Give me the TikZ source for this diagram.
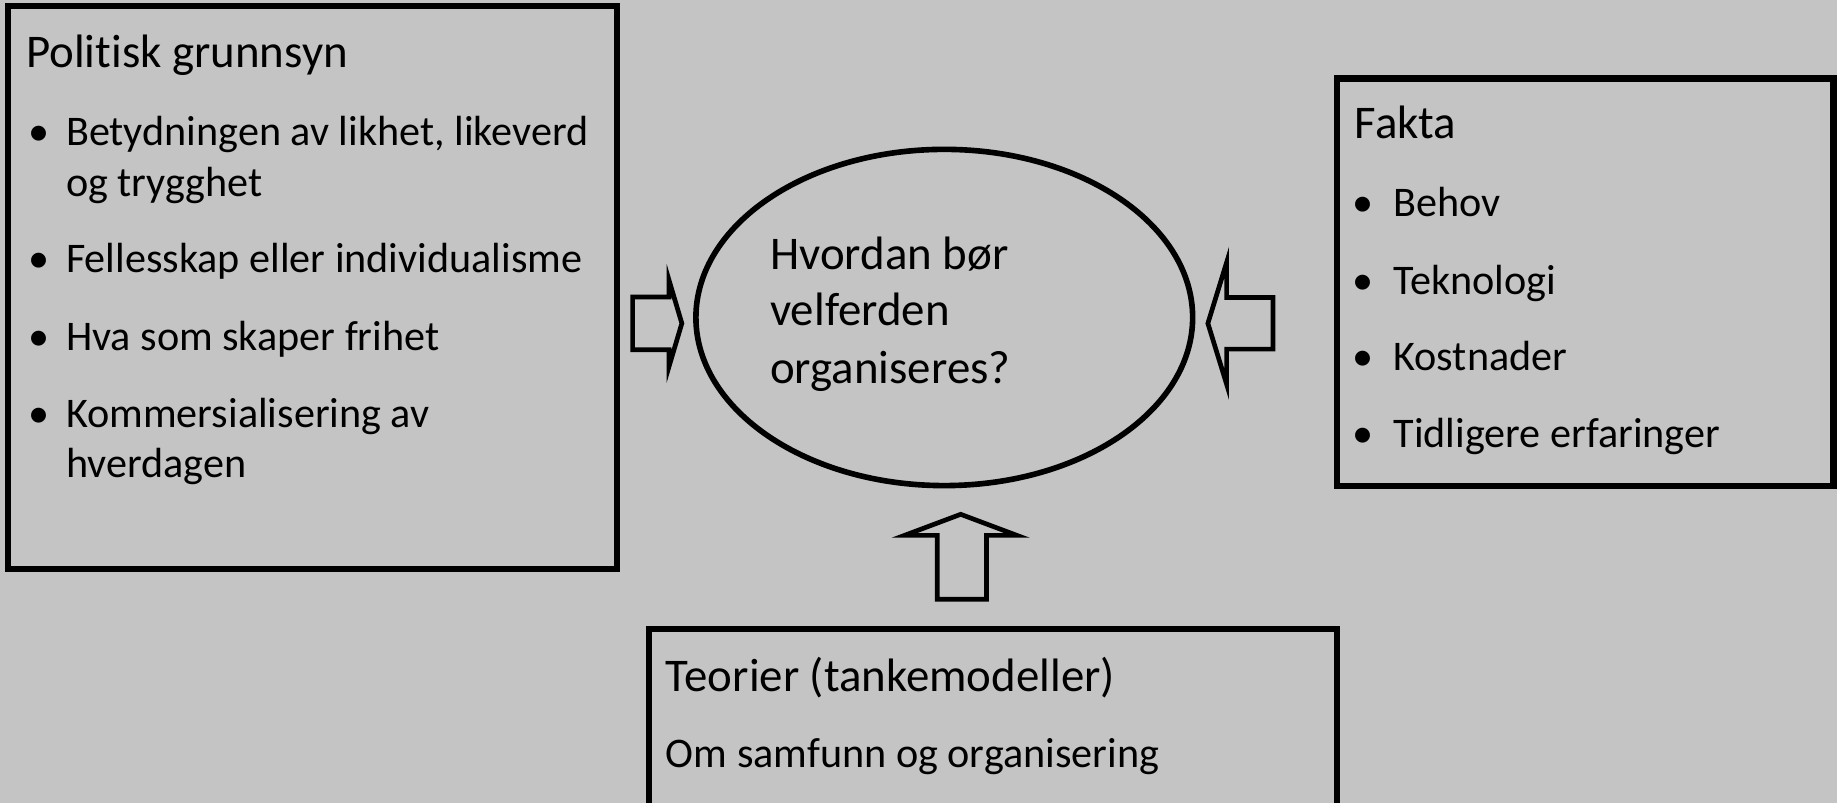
\documentclass[tikz,border=0pt]{standalone}
\usepackage{fontspec}
\setmainfont[RawFeature={-liga;-clig;-calt;-dlig}]{Carlito}
\usepackage{xcolor}
\usepackage{tikz}
\usetikzlibrary{shapes.geometric}
\definecolor{bakgrunn}{HTML}{C4C4C4}
\definecolor{strek}{HTML}{000000}
\tikzset{
  boks/.style={draw=strek, line width=2.6pt, rectangle, inner sep=0pt},
  sirkel/.style={draw=strek, line width=2.4pt, ellipse, inner sep=0pt},
  blokkpil/.style={draw=strek, line width=2pt, line join=miter, fill=bakgrunn},
  tittel/.style={anchor=base west, inner sep=0pt, font=\fontsize{20}{24}\selectfont},
  tekst/.style={anchor=base west, inner sep=0pt, font=\fontsize{18}{22}\selectfont},
  prikk/.style={anchor=base, inner sep=0pt, font=\fontsize{18}{22}\selectfont}
}
\newcommand{\Punkt}[5]{% navn, x punkt, x tekst, y, tekst
  \node[prikk] (#1p) at (#2,#4) {\textbullet};
  \node[tekst] (#1) at (#3,#4) {#5};
}

\begin{document}
\begin{tikzpicture}[x=0.5pt,y=0.5pt]
  \fill[bakgrunn] (0,0) rectangle (1568,685);
  \useasboundingbox (0,0) rectangle (1568,685);
  \clip (0,0) rectangle (1568,685);
  % boksene
  \node[boks, minimum width=260pt, minimum height=240.5pt] (grunnsyn) at (267,439.5) {};
  \node[boks, minimum width=212pt, minimum height=174pt] (fakta) at (1353,444) {};
  \node[boks, minimum width=293.5pt, minimum height=89pt] (teorier) at (847.5,59) {};
  \node[sirkel, minimum width=212pt, minimum height=143.5pt] (sporsmal) at (806,414) {};
  % politisk grunnsyn
  \node[tittel] (grunnsyntittel) at (22,627) {Poli\kern0pt tisk grunnsyn};
  \Punkt{likhet}{33}{56}{561}{Betydningen av likhet, likeverd}
  \node[tekst] (likhet2) at (56,517) {og trygghet};
  \Punkt{fellesskap}{33}{56}{452}{Fellesskap eller individualisme}
  \Punkt{frihet}{33}{56}{386}{Hva som skaper frihet}
  \Punkt{kommers}{33}{56}{320}{Kommersialisering av}
  \node[tekst] (kommers2) at (56,277) {hverdagen};
  % fakta
  \node[tittel] (faktatittel) at (1156,567) {Fakta};
  \Punkt{behov}{1163}{1189}{500}{Behov}
  \Punkt{teknologi}{1163}{1189}{434}{Teknologi}
  \Punkt{kostnader}{1163}{1189}{369}{Kostnader}
  \Punkt{erfaringer}{1163}{1189}{303}{Tidligere erfaringer}
  % sporsmalet
  \node[tittel] (sp1) at (657,455) {Hvordan bør};
  \node[tittel] (sp2) at (657,407) {velferden};
  \node[tittel] (sp3) at (657,358) {organiseres?};
  % teorier
  \node[tittel] (teorititel) at (568,95) {Teorier (tankemodeller)};
  \node[tekst] (samfunn) at (568,30) {Om samfunn og organisering};
  % blokkpiler
  \draw[blokkpil] (540,386.5) -- (571,386.5) -- (571,372) -- (582,409)
    -- (571,446) -- (571,431.5) -- (540,431.5) -- cycle;
  \draw[blokkpil] (1086.5,387) -- (1047,387) -- (1047,357) -- (1031,409)
    -- (1047,461) -- (1047,431) -- (1086.5,431) -- cycle;
  \draw[blokkpil] (800,173.5) -- (800,228) -- (772,228) -- (820,246)
    -- (868,228) -- (842,228) -- (842,173.5) -- cycle;
\end{tikzpicture}
\end{document}
